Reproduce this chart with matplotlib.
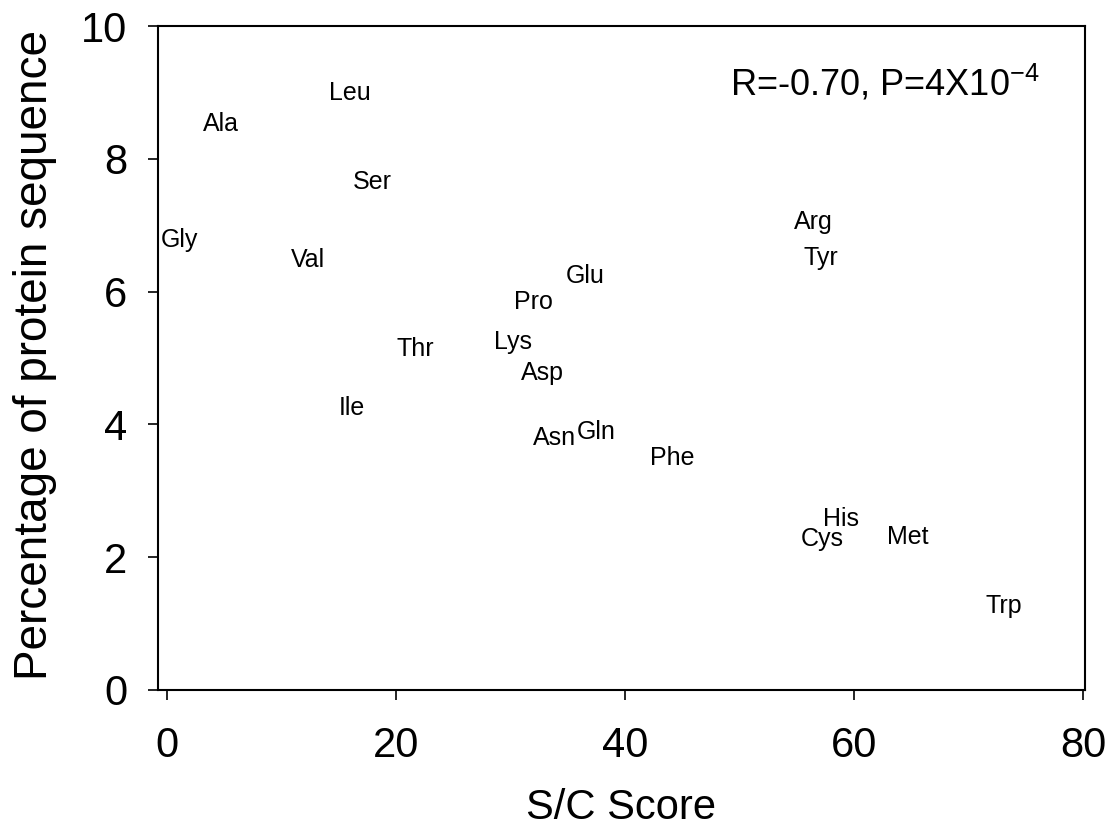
#!/usr/bin/env python3
"""
S/C スコアとタンパク質配列中のアミノ酸割合の散布図（ラベルのみ）
"""

import matplotlib
matplotlib.use('Agg')
import matplotlib.pyplot as plt

# アミノ酸ごとのデータ
amino_acids = ['Leu', 'Ala', 'Ser', 'Gly', 'Val', 'Arg', 'Tyr', 'Glu', 'Pro', 'Lys',
               'Thr', 'Asp', 'Ile', 'Asn', 'Gln', 'Phe', 'His', 'Cys', 'Met', 'Trp']
sc_score = [16.0, 4.7, 17.9, 1.05, 12.3, 56.4, 57.1, 36.5, 32.0, 30.2,
            21.7, 32.8, 16.1, 33.8, 37.5, 44.1, 58.8, 57.2, 64.7, 73.1]
percentage = [8.99, 8.52, 7.65, 6.77, 6.48, 7.05, 6.50, 6.23, 5.85, 5.24,
              5.14, 4.78, 4.25, 3.79, 3.89, 3.50, 2.57, 2.28, 2.31, 1.26]

x_ticks = [0, 20, 40, 60, 80]
y_ticks = [0, 2, 4, 6, 8, 10]

plt.rcParams['font.family'] = ['Liberation Sans', 'DejaVu Sans']
plt.rcParams['mathtext.fontset'] = 'custom'
plt.rcParams['mathtext.rm'] = 'Liberation Sans'
plt.rcParams['mathtext.it'] = 'Liberation Sans'

fig = plt.figure(figsize=(11.11, 8.31), dpi=100)
ax = fig.add_axes([0.1422, 0.1697, 0.8344, 0.799])

# 各点はラベルの文字だけで表示
for name, x, y in zip(amino_acids, sc_score, percentage):
    ax.text(x, y, name, ha='center', va='center', fontsize=18)

ax.set_xlim(-0.8, 80.15)
ax.set_ylim(0, 10)
ax.set_xticks(x_ticks)
ax.set_yticks(y_ticks)
ax.tick_params(axis='both', direction='out', length=7, width=1.2, labelsize=30)
ax.tick_params(axis='x', pad=19)
ax.tick_params(axis='y', pad=15)
for spine in ax.spines.values():
    spine.set_linewidth(1.5)

ax.set_xlabel('S/C Score', fontsize=30, labelpad=16)
fig.text(0.0315, 0.5728, 'Percentage of protein sequence', fontsize=33,
         rotation=90, ha='center', va='center')

ax.text(0.617, 0.896, r'R=-0.70, P=4X10$^{-4}$', transform=ax.transAxes,
        fontsize=26, ha='left', va='baseline')

plt.savefig('out.png', dpi=100)
plt.close()
